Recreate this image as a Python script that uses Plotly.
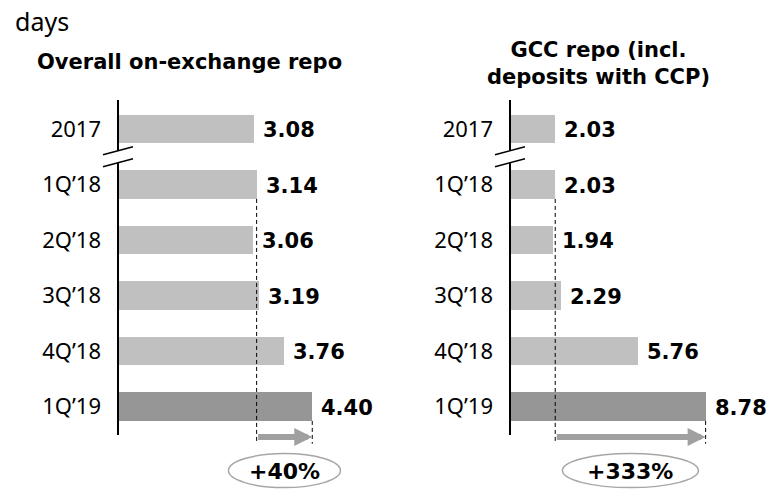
import plotly.graph_objects as go

# ---------------- data ----------------
categories = ["2017", "1Q’18", "2Q’18", "3Q’18", "4Q’18", "1Q’19"]
overall_repo = [3.08, 3.14, 3.06, 3.19, 3.76, 4.40]
gcc_repo = [2.03, 2.03, 1.94, 2.29, 5.76, 8.78]
value_labels_left = ["3.08", "3.14", "3.06", "3.19", "3.76", "4.40"]
value_labels_right = ["2.03", "2.03", "1.94", "2.29", "5.76", "8.78"]
growth_left = "+40%"
growth_right = "+333%"
unit_label = "days"
title_left = "Overall on-exchange repo"
title_right = "GCC repo (incl.<br>deposits with CCP)"
base_index = 1      # 1Q'18 : start of growth arrow
latest_index = 5    # 1Q'19 : highlighted bar

# ---------------- style ----------------
W, H = 769, 491
LIGHT = "#c0c0c0"
DARK = "#969696"
ARROW = "#a0a0a0"
FONT_REG = "Noto Sans"
FONT_BOLD = "DejaVu Sans"
BAR_W = 0.52
idx = list(range(len(categories)))
colors = [DARK if i == latest_index else LIGHT for i in idx]

fig = go.Figure()
fig.add_trace(go.Bar(x=overall_repo, y=idx, orientation="h", marker=dict(color=colors, line=dict(width=0)),
                     width=BAR_W, xaxis="x", yaxis="y", hoverinfo="skip"))
fig.add_trace(go.Bar(x=gcc_repo, y=idx, orientation="h", marker=dict(color=colors, line=dict(width=0)),
                     width=BAR_W, xaxis="x2", yaxis="y2", hoverinfo="skip"))

# axis geometry (pixels)
left_axis_px, right_axis_px = 118, 510
split_px = 390
left_scale, right_scale = 44.15, 22.28   # px per day
top_px, bot_px = 100, 435
row0_px, row_step = 129, 55.5
yr = [(H - row0_px) / row_step, (0 - row0_px) / row_step]
y_top = (top_px - row0_px) / row_step
y_bot = (bot_px - row0_px) / row_step

yaxis_common = dict(range=yr, domain=[0, 1], tickvals=idx, ticktext=categories, showline=False,
                    showgrid=False, zeroline=False, ticks="", anchor="free",
                    tickfont=dict(family=FONT_REG, size=22, color="#000"), ticklabelstandoff=17,
                    fixedrange=True)
fig.update_layout(
    width=W, height=H, margin=dict(l=0, r=0, t=0, b=0),
    paper_bgcolor="white", plot_bgcolor="white", showlegend=False, bargap=0,
    xaxis=dict(domain=[0, split_px / W],
               range=[-left_axis_px / left_scale, (split_px - left_axis_px) / left_scale],
               visible=False, fixedrange=True),
    xaxis2=dict(domain=[split_px / W, 1.0],
                range=[-(right_axis_px - split_px) / right_scale, (W - right_axis_px) / right_scale],
                visible=False, fixedrange=True),
    yaxis=dict(position=left_axis_px / W, **yaxis_common),
    yaxis2=dict(position=right_axis_px / W, **yaxis_common),
)

ann = []
shapes = []
for xa, ya, vals, labs, grow, half_w in [("x", "y", overall_repo, value_labels_left, growth_left, 56),
                                          ("x2", "y2", gcc_repo, value_labels_right, growth_right, 68)]:
    # vertical axis line
    shapes.append(dict(type="line", xref=xa, yref=ya, x0=0, x1=0, y0=y_top, y1=y_bot,
                       line=dict(color="black", width=2), layer="above"))
    # value labels
    for i, (v, t) in enumerate(zip(vals, labs)):
        ann.append(dict(x=v, y=i, xref=xa, yref=ya, text=t, showarrow=False, xanchor="left",
                        xshift=7, yshift=-1,
                        font=dict(family=FONT_BOLD, size=21, color="black", weight="bold")))
    b, e = vals[base_index], vals[latest_index]
    y_end = 5.67
    y_arrow = 5.55
    # dashed guides
    shapes.append(dict(type="line", xref=xa, yref=ya, x0=b, x1=b, y0=base_index + BAR_W / 2, y1=y_end,
                       line=dict(color="black", width=1, dash="4px,3px"), layer="above"))
    shapes.append(dict(type="line", xref=xa, yref=ya, x0=e, x1=e, y0=latest_index + BAR_W / 2, y1=y_end,
                       line=dict(color="black", width=1, dash="4px,3px"), layer="above"))
    # growth arrow
    ann.append(dict(x=e, y=y_arrow, ax=b, ay=y_arrow, xref=xa, yref=ya, axref=xa, ayref=ya, text="",
                    showarrow=True, arrowhead=2, arrowsize=0.6, arrowwidth=6, arrowcolor=ARROW,
                    standoff=0, startstandoff=0))
    # ellipse + growth text
    mid = (b + e) / 2
    y_ell = 6.155
    shapes.append(dict(type="circle", xref=xa, yref=ya, xsizemode="pixel", ysizemode="pixel",
                       xanchor=mid, yanchor=y_ell, x0=-half_w, x1=half_w, y0=-17, y1=17,
                       line=dict(color="#a6a6a6", width=1.5), fillcolor="white", layer="below"))
    ann.append(dict(x=mid, y=y_ell, xref=xa, yref=ya, text=grow, showarrow=False, yshift=-1,
                    font=dict(family=FONT_BOLD, size=22, color="black", weight="bold")))
    # axis break marks between first and second row
    shapes.append(dict(type="path", xref=xa, yref=ya, xsizemode="pixel", ysizemode="pixel",
                       xanchor=0, yanchor=0.5, path="M -5,4.5 L 5,7.5 L 5,-4.5 L -5,-7.5 Z",
                       fillcolor="white", line=dict(width=0), layer="above"))
    shapes.append(dict(type="path", xref=xa, yref=ya, xsizemode="pixel", ysizemode="pixel",
                       xanchor=0, yanchor=0.5, path="M -15,2 L 15,10",
                       line=dict(color="black", width=1.5), layer="above"))
    shapes.append(dict(type="path", xref=xa, yref=ya, xsizemode="pixel", ysizemode="pixel",
                       xanchor=0, yanchor=0.5, path="M -15,-10 L 15,-2",
                       line=dict(color="black", width=1.5), layer="above"))

# titles
ann.append(dict(x=13 / W, y=1 - 21 / H, xref="paper", yref="paper", text=unit_label, showarrow=False,
                xanchor="left", yanchor="middle", font=dict(family=FONT_REG, size=25, color="#000")))
ann.append(dict(x=189 / W, y=1 - 62 / H, xref="paper", yref="paper", text=title_left, showarrow=False,
                xanchor="center", yanchor="middle",
                font=dict(family=FONT_BOLD, size=21, color="black", weight="bold")))
ann.append(dict(x=598 / W, y=1 - 63 / H, xref="paper", yref="paper", text=title_right, showarrow=False,
                xanchor="center", yanchor="middle",
                font=dict(family=FONT_BOLD, size=21, color="black", weight="bold")))

fig.update_layout(annotations=ann, shapes=shapes)
fig.write_html("out.html", config={"displayModeBar": False},
               post_script="document.body.style.margin='0';")
